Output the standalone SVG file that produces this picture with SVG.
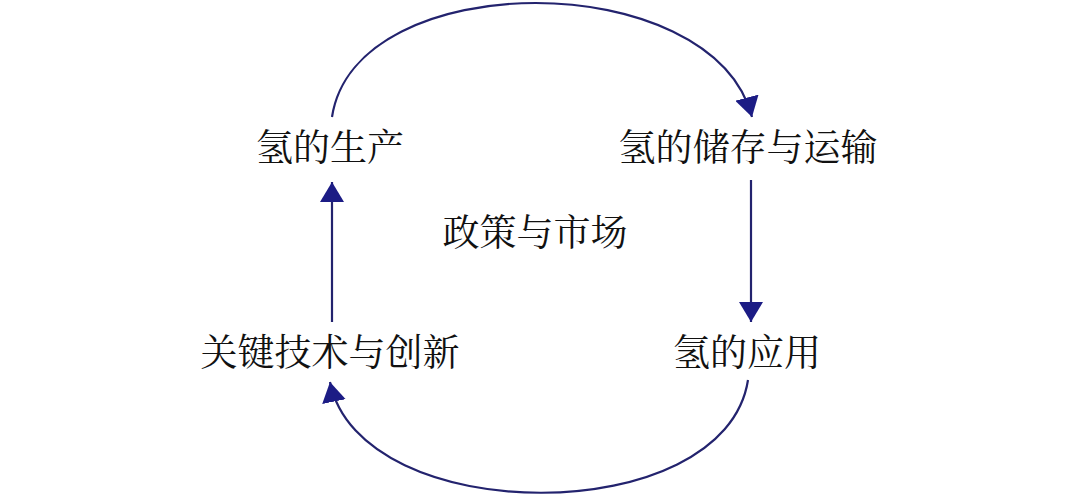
<svg xmlns="http://www.w3.org/2000/svg" width="1080" height="498" viewBox="0 0 1080 498">
<style>
.lbl{font-family:"Noto Serif CJK SC","Liberation Serif","Noto Sans CJK SC",serif;font-size:37px;fill:#111;text-anchor:middle}
.conn{fill:none;stroke:#23236e;stroke-width:2.2}
</style>
<defs>
<marker id="ah" viewBox="0 0 20 24" refX="20" refY="12" markerWidth="20" markerHeight="24" markerUnits="userSpaceOnUse" orient="auto">
<path d="M0,0 L20,12 L0,24 z" fill="#1c1c85"/>
</marker>
</defs>
<rect width="1080" height="498" fill="#fff"/>
<g id="connectors">
<path class="conn" d="M332,117 C355,-35 712,-35 752,117" marker-end="url(#ah)"/>
<path class="conn" d="M751,180 L751,322" marker-end="url(#ah)"/>
<path class="conn" d="M748,380 C725,530 360,530 330,382" marker-end="url(#ah)"/>
<path class="conn" d="M332,322 L332,182" marker-end="url(#ah)"/>
</g>
<g id="node-production"><text class="lbl" x="330" y="161">氢的生产</text></g>
<g id="node-storage"><text class="lbl" x="748" y="161">氢的储存与运输</text></g>
<g id="node-policy"><text class="lbl" x="535" y="246">政策与市场</text></g>
<g id="node-tech"><text class="lbl" x="330" y="366">关键技术与创新</text></g>
<g id="node-application"><text class="lbl" x="747" y="366">氢的应用</text></g>
</svg>
